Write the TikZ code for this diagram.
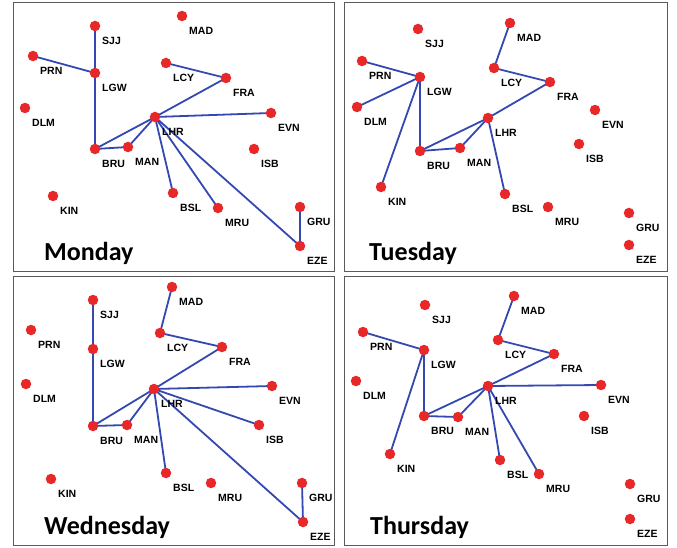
\documentclass[tikz,border=0pt]{standalone}
\usepackage{fontspec}
\setmainfont{Liberation Sans}
\newfontfamily\titlefont{Carlito}
\definecolor{nodered}{RGB}{232,40,40}
\definecolor{edgeblue}{RGB}{52,72,178}
\definecolor{framegray}{RGB}{90,90,90}
\pgfdeclarelayer{background}
\pgfsetlayers{background,main}
\tikzset{
  apt/.style={circle, fill=nodered, inner sep=0pt, minimum size=10.5pt},
  lbl/.style={anchor=west, inner sep=0pt, font=\fontsize{10.5}{12}\selectfont\bfseries},
  edge/.style={draw=edgeblue, line width=1.8pt},
  panel/.style={draw=framegray, line width=1pt},
  daytitle/.style={anchor=base west, inner sep=0pt, font=\titlefont\fontsize{26}{30}\selectfont\bfseries}
}
\newcommand{\airports}[2]{%
  \foreach \n/\x/\y in {#2} {
    \node[apt] (#1-\n) at (\x,\y) {};
    \node[lbl] (#1-\n-l) at ([shift={(7,15)}]#1-\n.center) {\n};
  }}
\newcommand{\links}[2]{%
  \begin{pgfonlayer}{background}
  \foreach \a/\b in {#2}
    \draw[edge] (#1-\a.center) -- (#1-\b.center);
  \end{pgfonlayer}}
\begin{document}
\begin{tikzpicture}[x=1pt,y=-1pt]
\useasboundingbox (0,0) rectangle (677,548);
\begin{pgfonlayer}{background}
\fill[white] (0,0) rectangle (677,548);
\end{pgfonlayer}
% panel frames
\draw[panel] (13,3) rectangle (334,271);
\draw[panel] (344,3) rectangle (667,271);
\draw[panel] (13,276) rectangle (334,545);
\draw[panel] (344,276) rectangle (667,545);
% ---------------- Monday
\airports{m}{SJJ/95/26,MAD/182/16,PRN/33/56,LGW/95/73,LCY/166/63,FRA/226/78,DLM/25/108,LHR/155/117,EVN/271/113,BRU/95/149,MAN/128/147,ISB/254/149,KIN/53/196,BSL/173/193,MRU/218/208,GRU/300/207,EZE/300/246}
\links{m}{SJJ/LGW,PRN/LGW,LGW/BRU,BRU/MAN,BRU/LHR,MAN/LHR,LCY/FRA,FRA/LHR,LHR/EVN,LHR/BSL,LHR/MRU,LHR/EZE,GRU/EZE}
\node[daytitle] (tm) at (44,260) {Monday};
% ---------------- Tuesday
\airports{t}{SJJ/418/29,MAD/510/23,PRN/362/61,LGW/420/77,LCY/494/68,FRA/550/82,DLM/357/107,LHR/488/118,EVN/595/110,ISB/579/144,BRU/420/151,MAN/460/148,KIN/381/187,BSL/505/194,MRU/548/207,GRU/629/213,EZE/629/245}
\links{t}{LGW/PRN,LGW/DLM,LGW/KIN,LGW/BRU,BRU/MAN,BRU/LHR,MAN/LHR,LHR/FRA,LHR/BSL,FRA/LCY,LCY/MAD}
\node[daytitle] (tt) at (369,260) {Tuesday};
% ---------------- Wednesday
\airports{w}{SJJ/93/300,MAD/172/287,PRN/31/330,LGW/93/349,LCY/160/333,FRA/222/347,DLM/26/384,LHR/154/389,EVN/272/386,BRU/93/426,MAN/127/425,ISB/259/425,KIN/51/479,BSL/166/473,MRU/211/483,GRU/302/483,EZE/303/522}
\links{w}{SJJ/LGW,LGW/BRU,BRU/MAN,BRU/LHR,MAN/LHR,LHR/FRA,FRA/LCY,LCY/MAD,LHR/EVN,LHR/ISB,LHR/BSL,LHR/EZE,EZE/GRU}
\node[daytitle] (tw) at (44,534) {Wednesday};
% ---------------- Thursday
\airports{h}{SJJ/425/305,MAD/514/296,PRN/363/332,LGW/424/350,LCY/498/340,FRA/554/354,DLM/356/381,LHR/488/386,EVN/601/385,ISB/584/416,BRU/424/416,MAN/458/417,KIN/390/454,BSL/500/460,MRU/539/474,GRU/630/484,EZE/630/519}
\links{h}{PRN/LGW,LGW/KIN,LGW/BRU,BRU/MAN,BRU/LHR,MAN/LHR,LHR/FRA,FRA/LCY,LCY/MAD,LHR/EVN,LHR/BSL,LHR/MRU}
\node[daytitle] (th) at (370,534) {Thursday};
\end{tikzpicture}
\end{document}
